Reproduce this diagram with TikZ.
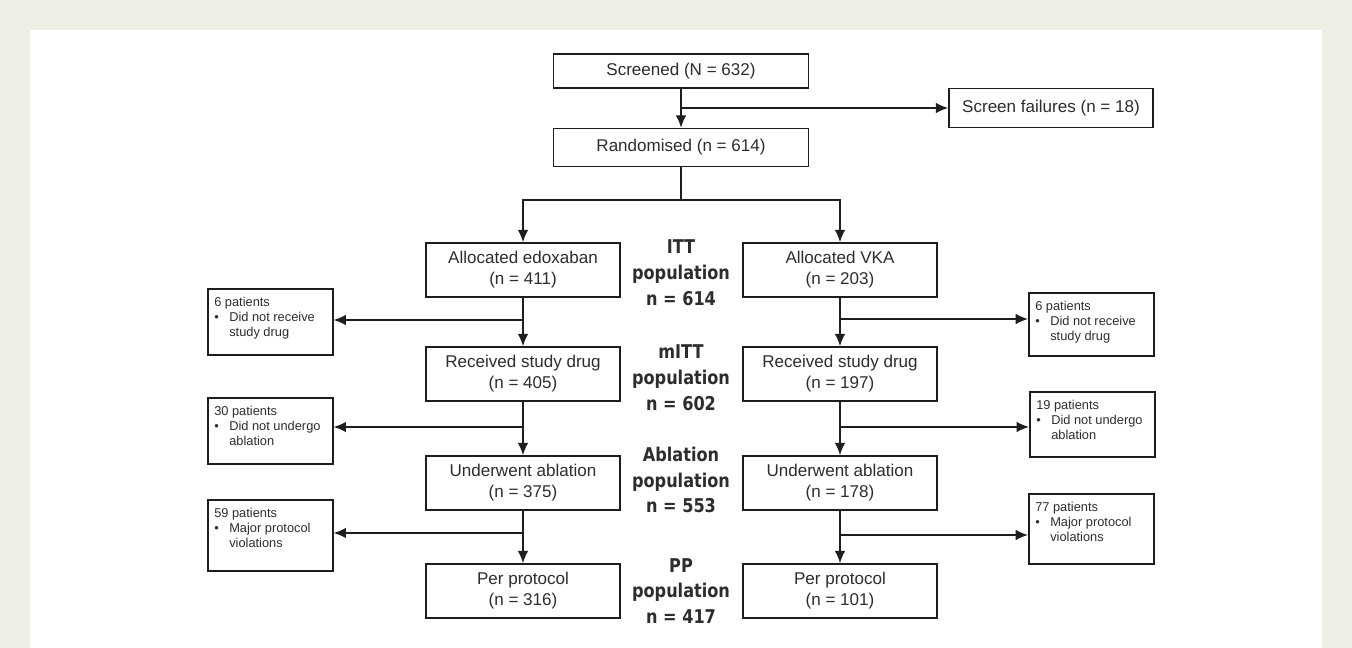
\documentclass[tikz,border=0pt]{standalone}
\usepackage{fontspec}
\setmainfont{Liberation Sans}
\newfontfamily\popfont[FakeStretch=0.85]{DejaVu Sans}
\usetikzlibrary{arrows.meta}

\definecolor{fond}{RGB}{239,238,228}
\definecolor{trait}{RGB}{30,30,30}
\definecolor{texte}{RGB}{45,45,45}

% texte des boîtes d'exclusion : titre puis une puce
\newcommand{\excl}[3][0.98cm]{\parbox[c][#1][t]{2.24cm}{\raggedright #2\par
  \hangindent=0.3cm\hangafter=1\noindent\makebox[0.3cm][l]{\textbullet}#3}}

\begin{document}
\begin{tikzpicture}[x=0.02cm,y=-0.02cm,>={Latex[length=7pt,width=6pt]},
  boite/.style={draw=trait,line width=0.9pt,fill=white,text=texte,
    font=\fontsize{9.7}{12}\selectfont,align=center,inner sep=0pt,
    minimum width=3.88cm,minimum height=1.08cm},
  pop/.style={text=texte,align=center,
    font=\popfont\bfseries\fontsize{10.8}{14.7}\selectfont},
  exclbox/.style={draw=trait,line width=0.9pt,text=texte,anchor=north west,
    font=\fontsize{7.3}{8.6}\selectfont,inner xsep=0.13cm,inner ysep=0.17cm},
  fleche/.style={->,draw=trait,line width=0.9pt}]

  % fond
  \fill[fond] (0,0) rectangle (1352,648);
  \fill[white] (30,30) rectangle (1322,648);
  \useasboundingbox (0,0) rectangle (1352,648);

  % sélection
  \node[boite,minimum width=5.1cm,minimum height=0.68cm] (scr) at (681,71) {Screened (N = 632)};
  \node[boite,minimum width=5.1cm,minimum height=0.76cm] (rand) at (681,147.5) {Randomised (n = 614)};
  \node[boite,minimum width=4.08cm,minimum height=0.78cm] (fail) at (1051,108) {Screen failures (n = 18)};

  % bras edoxaban
  \node[boite] (alloE) at (523,270) {Allocated edoxaban\\(n = 411)};
  \node[boite] (recE) at (523,374) {Received study drug\\(n = 405)};
  \node[boite] (ablE) at (523,483) {Underwent ablation\\(n = 375)};
  \node[boite] (ppE) at (523,591) {Per protocol\\(n = 316)};

  % bras AVK
  \node[boite] (alloV) at (840,270) {Allocated VKA\\(n = 203)};
  \node[boite] (recV) at (840,374) {Received study drug\\(n = 197)};
  \node[boite] (ablV) at (840,483) {Underwent ablation\\(n = 178)};
  \node[boite] (ppV) at (840,591) {Per protocol\\(n = 101)};

  % populations
  \node[pop] (itt) at (681,273) {ITT\\population\\n = 614};
  \node[pop] (mitt) at (681,378) {mITT\\population\\n = 602};
  \node[pop] (abl) at (681,480) {Ablation\\population\\n = 553};
  \node[pop] (pp) at (681,591) {PP\\population\\n = 417};

  % exclusions
  \node[exclbox] (exE1) at (207,288) {\excl{6 patients}{Did not receive study drug}};
  \node[exclbox] (exE2) at (207,397) {\excl{30 patients}{Did not undergo ablation}};
  \node[exclbox] (exE3) at (207,499) {\excl[1.08cm]{59 patients}{Major protocol violations}};
  \node[exclbox] (exV1) at (1028,292) {\excl[0.92cm]{6 patients}{Did not receive study drug}};
  \node[exclbox] (exV2) at (1029,391) {\excl[0.96cm]{19 patients}{Did not undergo ablation}};
  \node[exclbox] (exV3) at (1028,493) {\excl[1.06cm]{77 patients}{Major protocol violations}};

  % points de branchement
  \coordinate (sf) at (681,108);
  \coordinate (split) at (681,200);
  \coordinate (bE1) at (523,320);
  \coordinate (bE2) at (523,427);
  \coordinate (bE3) at (523,533);
  \coordinate (bV1) at (840,319);
  \coordinate (bV2) at (840,427);
  \coordinate (bV3) at (840,535);

  % flèches
  \draw[fleche] (scr) -- (rand);
  \draw[fleche] (sf) -- (fail.west);
  \draw[draw=trait,line width=0.9pt] (rand) -- (split);
  \draw[fleche] (split) -| (alloE.north);
  \draw[fleche] (split) -| (alloV.north);
  \draw[fleche] (alloE) -- (recE);
  \draw[fleche] (recE) -- (ablE);
  \draw[fleche] (ablE) -- (ppE);
  \draw[fleche] (alloV) -- (recV);
  \draw[fleche] (recV) -- (ablV);
  \draw[fleche] (ablV) -- (ppV);
  \draw[fleche] (bE1) -- (bE1 -| exE1.east);
  \draw[fleche] (bE2) -- (bE2 -| exE2.east);
  \draw[fleche] (bE3) -- (bE3 -| exE3.east);
  \draw[fleche] (bV1) -- (bV1 -| exV1.west);
  \draw[fleche] (bV2) -- (bV2 -| exV2.west);
  \draw[fleche] (bV3) -- (bV3 -| exV3.west);
\end{tikzpicture}
\end{document}
